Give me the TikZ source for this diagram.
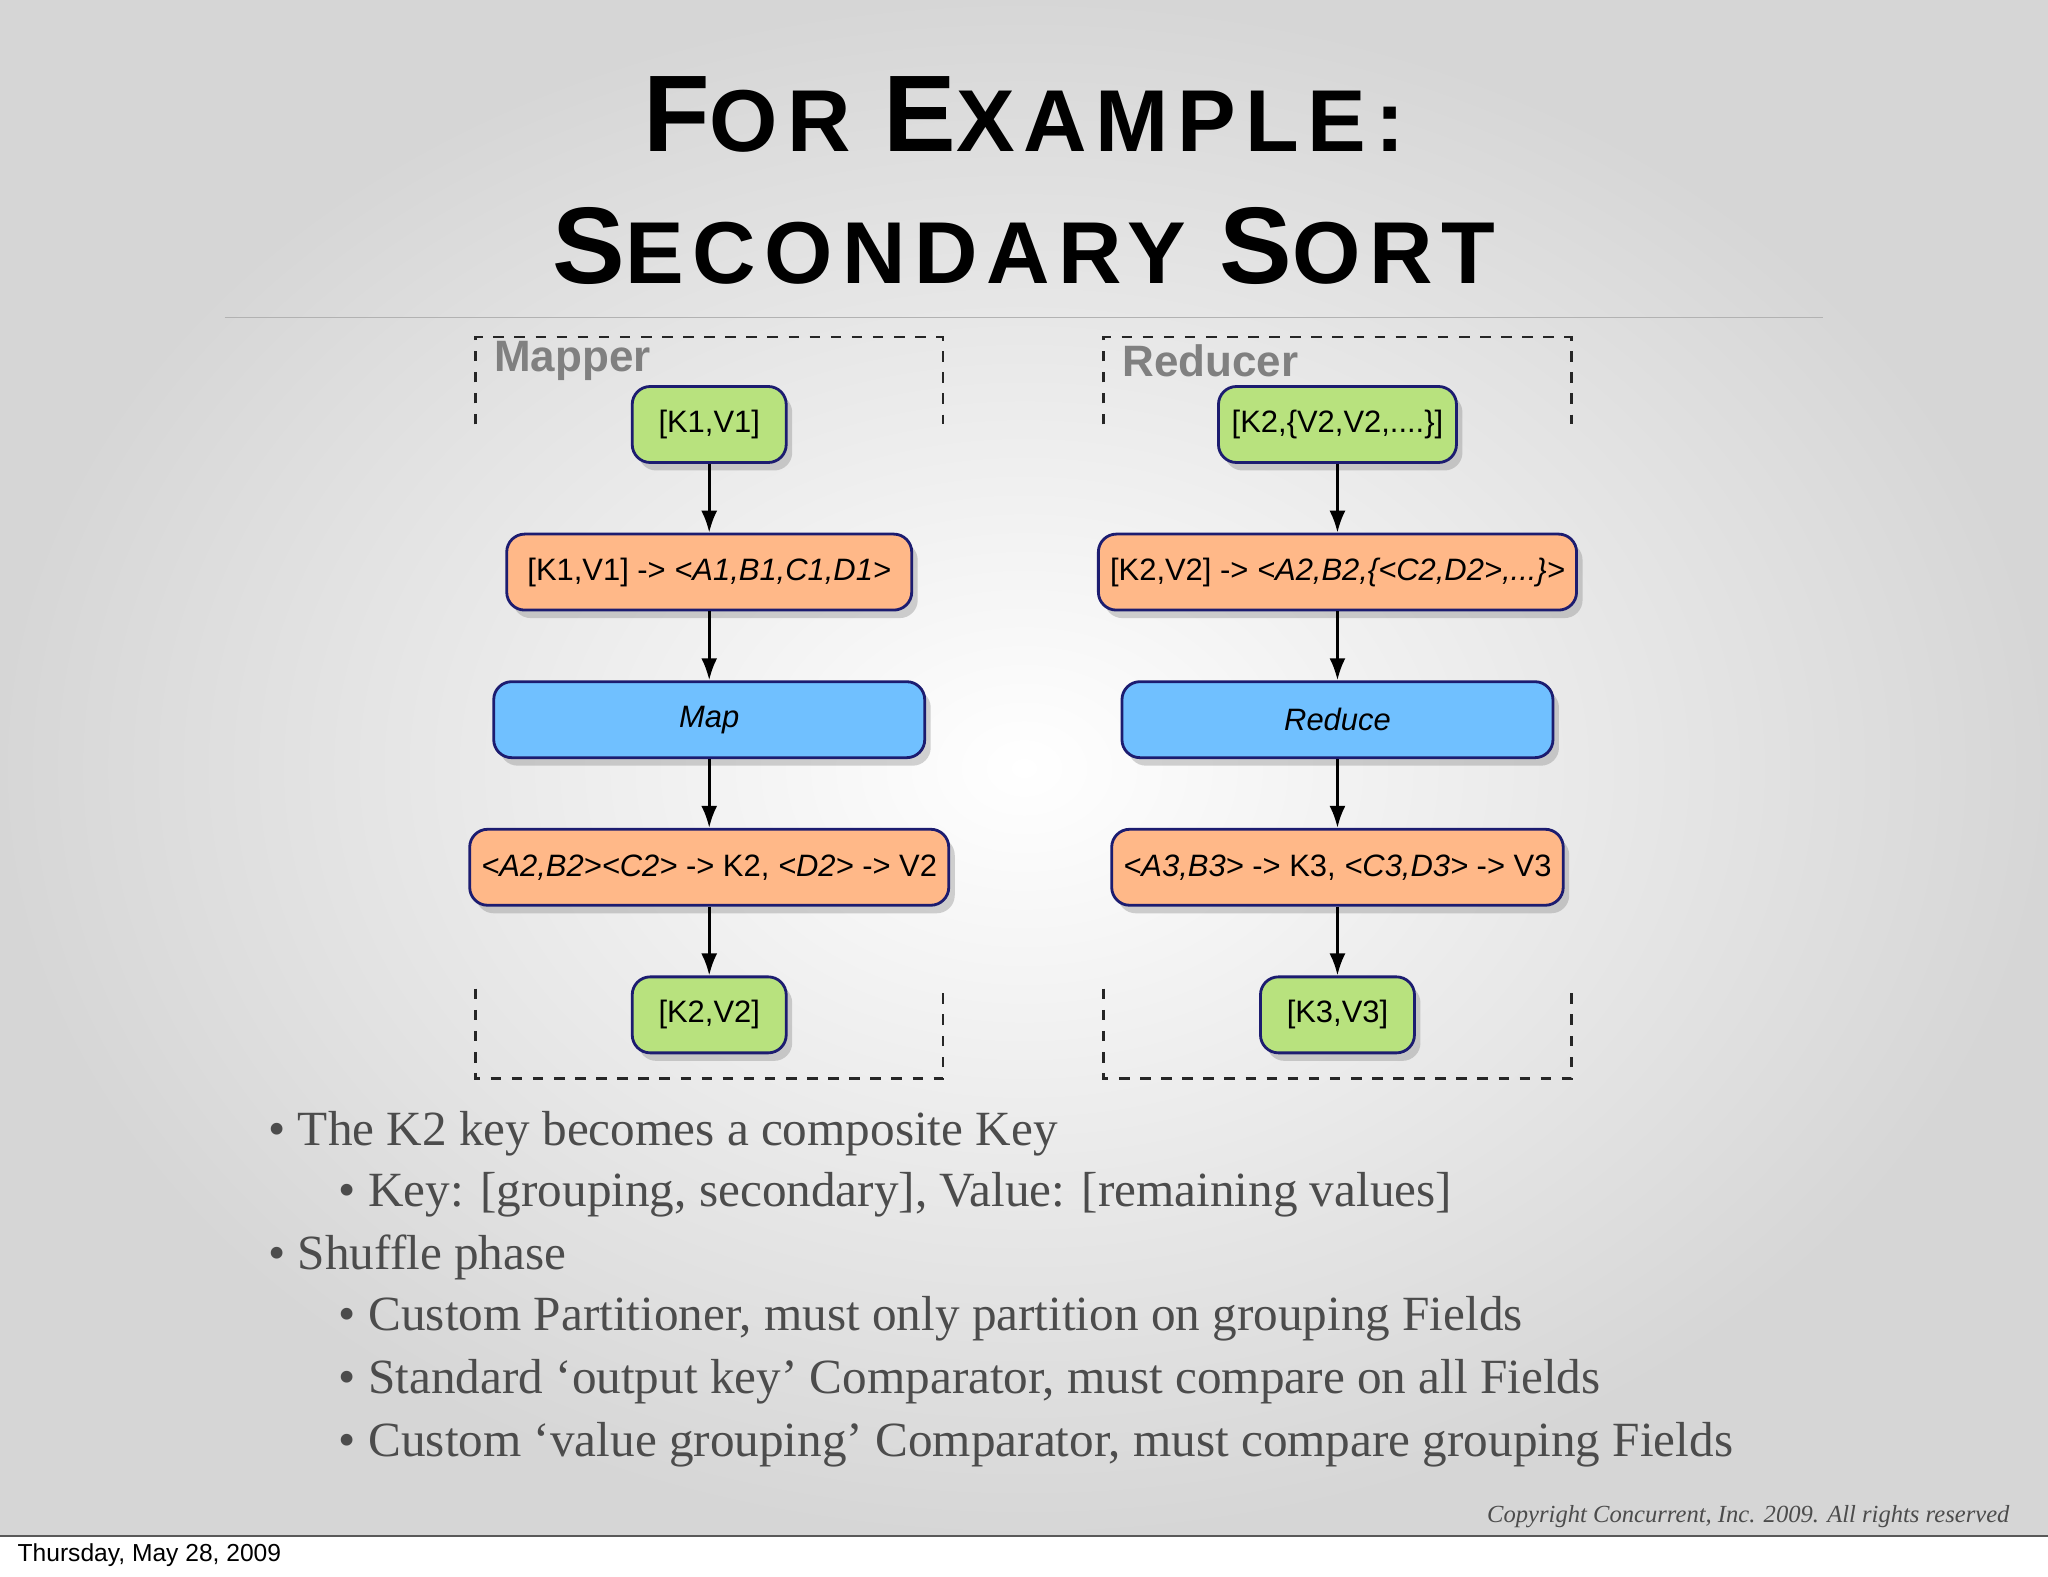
\documentclass[tikz,border=0pt]{standalone}
\usepackage{fontspec}
\setsansfont{Liberation Sans}
\setmainfont{Liberation Serif}
\newfontfamily\titlefont[LetterSpace=10]{Liberation Sans Bold}
\usetikzlibrary{arrows.meta,shadows}
\definecolor{boxgreen}{HTML}{B8E27E}
\definecolor{boxorange}{HTML}{FFB888}
\definecolor{boxblue}{HTML}{70C0FF}
\definecolor{boxline}{HTML}{1C1C70}
\tikzset{
  flowbox/.style={draw=boxline, thick, rounded corners=0.18cm, minimum height=0.76cm,
    font=\sffamily\fontsize{8.8}{10}\selectfont, drop shadow={shadow xshift=0.06cm, shadow yshift=-0.08cm, opacity=0.35}},
  databox/.style={flowbox, fill=boxgreen},
  pairbox/.style={flowbox, fill=boxorange},
  funcbox/.style={flowbox, fill=boxblue},
  flow/.style={-{Latex[length=0.22cm,width=0.16cm]}, thick},
  bracket/.style={thick, dashed, gray!30!black},
  bull/.style={anchor=west, font=\fontsize{14}{16}\selectfont, text=black!70}
}
\begin{document}
\begin{tikzpicture}[x=0.01306cm, y=-0.01306cm]
            \useasboundingbox (0,0) rectangle (1568,1206.7);
            \shade[inner color=white, outer color=gray!32] (0,0) rectangle (1568,1176);
            \fill[white] (0,1176) rectangle (1568,1206.7);
            \draw[gray!70!black] (0,1176) -- (1568,1176);

            % title
            \node (t1) at (784,88) {\titlefont\fontsize{31}{33}\selectfont F\fontsize{25}{27}\selectfont OR \fontsize{31}{33}\selectfont E\fontsize{25}{27}\selectfont XAMPLE:};
            \node (t2) at (784,188) {\titlefont\fontsize{31}{33}\selectfont S\fontsize{25}{27}\selectfont ECONDARY \fontsize{31}{33}\selectfont S\fontsize{25}{27}\selectfont ORT};
            \draw[gray!60] (172,243) -- (1396,243);

            % brackets
            \draw[bracket] (364,325) -- (364,258) -- (722,258) -- (722,325);
            \draw[bracket] (364,757) -- (364,826) -- (722,826) -- (722,757);
            \draw[bracket] (845,325) -- (845,258) -- (1203,258) -- (1203,325);
            \draw[bracket] (845,757) -- (845,826) -- (1203,826) -- (1203,757);
            \node[anchor=west, font=\sffamily\bfseries\fontsize{12.5}{14}\selectfont, text=gray] (mlabel) at (369,276) {Mapper};
            \node[anchor=west, font=\sffamily\bfseries\fontsize{12.5}{14}\selectfont, text=gray] (rlabel) at (850,276) {Reducer};

            % mapper
            \node[databox, minimum width=1.54cm] (min) at (543,325) {[K1,V1]};
            \node[pairbox, minimum width=4.05cm] (mpair) at (543,438) {[K1,V1] -> \textit{<A1,B1,C1,D1>}};
            \node[funcbox, minimum width=4.31cm] (map) at (543,551) {\textit{Map}};
            \node[pairbox, minimum width=4.68cm] (mkey) at (543,664) {\textit{<A2,B2><C2>} -> K2, \textit{<D2>} -> V2};
            \node[databox, minimum width=1.54cm] (mout) at (543,777) {[K2,V2]};

            % reducer
            \node[databox, minimum width=2.38cm] (rin) at (1024,325) {[K2,\{V2,V2,....\}]};
            \node[pairbox, minimum width=4.68cm] (rpair) at (1024,438) {[K2,V2] -> \textit{<A2,B2,\{<C2,D2>,...\}>}};
            \node[funcbox, minimum width=4.31cm] (red) at (1024,551) {\textit{Reduce}};
            \node[pairbox, minimum width=4.44cm] (rkey) at (1024,664) {\textit{<A3,B3>} -> K3, \textit{<C3,D3>} -> V3};
            \node[databox, minimum width=1.54cm] (rout) at (1024,777) {[K3,V3]};

            \draw[flow] (min) -- (mpair);
            \draw[flow] (mpair) -- (map);
            \draw[flow] (map) -- (mkey);
            \draw[flow] (mkey) -- (mout);
            \draw[flow] (rin) -- (rpair);
            \draw[flow] (rpair) -- (red);
            \draw[flow] (red) -- (rkey);
            \draw[flow] (rkey) -- (rout);

            % bullets
            \node[bull] (b1) at (196,868) {\textbullet{} The K2 key becomes a composite Key};
            \node[bull] (b2) at (250,915) {\textbullet{} Key: [grouping, secondary], Value: [remaining values]};
            \node[bull] (b3) at (196,963) {\textbullet{} Shuffle phase};
            \node[bull] (b4) at (250,1010) {\textbullet{} Custom Partitioner, must only partition on grouping Fields};
            \node[bull] (b5) at (250,1058) {\textbullet{} Standard ‘output key’ Comparator, must compare on all Fields};
            \node[bull] (b6) at (250,1106) {\textbullet{} Custom ‘value grouping’ Comparator, must compare grouping Fields};

            \node[anchor=east, font=\itshape\fontsize{7}{8}\selectfont, text=black!70] (copy) at (1548,1161) {Copyright Concurrent, Inc. 2009. All rights reserved};
            \node[anchor=west, font=\sffamily\fontsize{7}{8}\selectfont] (date) at (4,1191) {Thursday, May 28, 2009};
\end{tikzpicture}
\end{document}
